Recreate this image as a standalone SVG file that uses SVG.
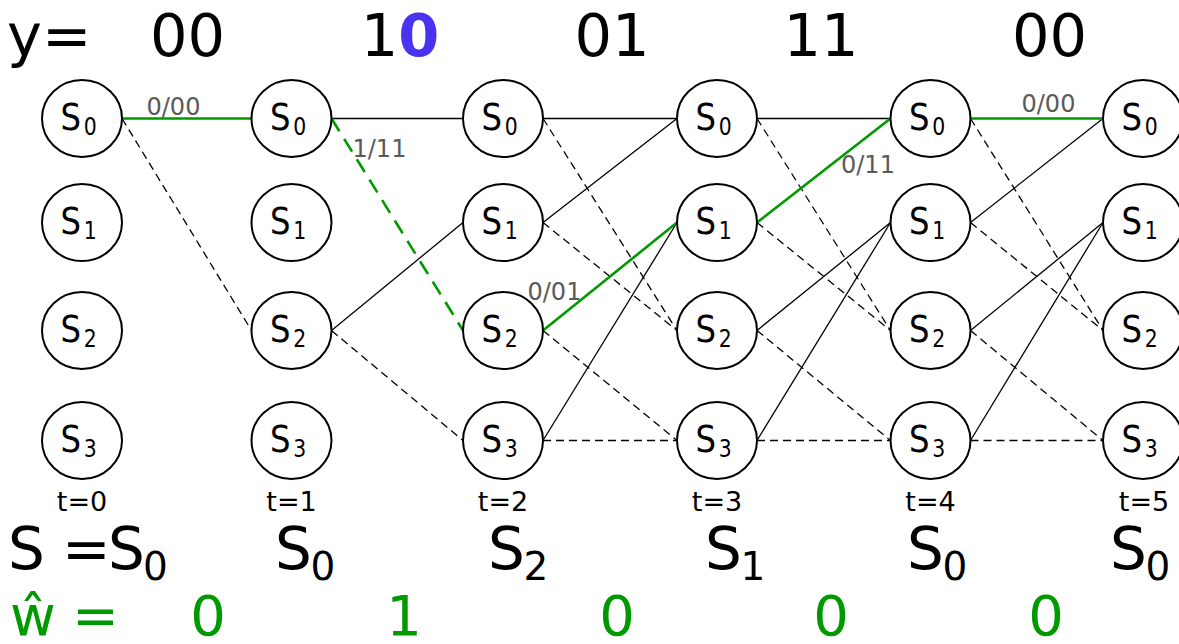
<svg xmlns="http://www.w3.org/2000/svg" width="1179" height="644" viewBox="0 0 1179 644">
<style>
text{font-family:"DejaVu Sans","Liberation Sans",sans-serif}
.s{stroke:#000;stroke-width:1.3;fill:none}
.d{stroke:#000;stroke-width:1.3;fill:none;stroke-dasharray:8,5}
.g{stroke:#009900;stroke-width:2.6;fill:none}
.gd{stroke:#009900;stroke-width:2.6;fill:none;stroke-dasharray:15,9}
.nd ellipse{fill:#fff;stroke:#000;stroke-width:2}
.nl{font-size:38px;fill:#000}
.sub{font-size:24px}
.lbl{font-size:24px;fill:#5a5a5a}
.tl{font-size:27px;fill:#000;text-anchor:middle}
.hd{font-size:59px;fill:#000}
.big{font-size:58px;fill:#000}
.bsub{font-size:39px}
.gr{font-size:56px;fill:#009900}
</style>
<g id="header">
<text class="hd" x="7" y="56">y=</text>
<text class="hd" x="187.5" y="56" text-anchor="middle">00</text>
<text class="hd" x="400" y="56" text-anchor="middle">1<tspan fill="#4b32f0" font-weight="bold">0</tspan></text>
<text class="hd" x="612" y="56" text-anchor="middle">01</text>
<text class="hd" x="821" y="56" text-anchor="middle">11</text>
<text class="hd" x="1049.5" y="56" text-anchor="middle">00</text>
</g>
<g id="connectors">
<line class="g" x1="122" y1="118.5" x2="251.5" y2="118.5"/>
<line class="d" x1="122" y1="118.5" x2="251.5" y2="330.5"/>
<line class="s" x1="331.5" y1="118.5" x2="463" y2="118.5"/>
<line class="gd" x1="331.5" y1="118.5" x2="463" y2="330.5"/>
<line class="s" x1="331.5" y1="330.5" x2="463" y2="222.5"/>
<line class="d" x1="331.5" y1="330.5" x2="463" y2="440.5"/>
<line class="s" x1="543" y1="118.5" x2="677" y2="118.5"/>
<line class="d" x1="543" y1="118.5" x2="677" y2="330.5"/>
<line class="s" x1="543" y1="222.5" x2="677" y2="118.5"/>
<line class="d" x1="543" y1="222.5" x2="677" y2="330.5"/>
<line class="d" x1="543" y1="330.5" x2="677" y2="440.5"/>
<line class="s" x1="543" y1="440.5" x2="677" y2="222.5"/>
<line class="d" x1="543" y1="440.5" x2="677" y2="440.5"/>
<line class="g" x1="543" y1="330.5" x2="677" y2="222.5"/>
<line class="s" x1="757" y1="118.5" x2="890.5" y2="118.5"/>
<line class="d" x1="757" y1="118.5" x2="890.5" y2="330.5"/>
<line class="d" x1="757" y1="222.5" x2="890.5" y2="330.5"/>
<line class="s" x1="757" y1="330.5" x2="890.5" y2="222.5"/>
<line class="d" x1="757" y1="330.5" x2="890.5" y2="440.5"/>
<line class="s" x1="757" y1="440.5" x2="890.5" y2="222.5"/>
<line class="d" x1="757" y1="440.5" x2="890.5" y2="440.5"/>
<line class="g" x1="757" y1="222.5" x2="890.5" y2="118.5"/>
<line class="d" x1="970.5" y1="118.5" x2="1103" y2="330.5"/>
<line class="s" x1="970.5" y1="222.5" x2="1103" y2="118.5"/>
<line class="d" x1="970.5" y1="222.5" x2="1103" y2="330.5"/>
<line class="s" x1="970.5" y1="330.5" x2="1103" y2="222.5"/>
<line class="d" x1="970.5" y1="330.5" x2="1103" y2="440.5"/>
<line class="s" x1="970.5" y1="440.5" x2="1103" y2="222.5"/>
<line class="d" x1="970.5" y1="440.5" x2="1103" y2="440.5"/>
<line class="g" x1="970.5" y1="118.5" x2="1103" y2="118.5"/>
<text class="lbl" x="146.5" y="114.5">0/00</text>
<text class="lbl" x="352.5" y="157">1/11</text>
<text class="lbl" x="527.5" y="300">0/01</text>
<text class="lbl" x="841" y="172.5">0/11</text>
<text class="lbl" x="1021.5" y="111.5">0/00</text>
</g>
<g id="n0_0" class="nd"><ellipse cx="82" cy="118.5" rx="40" ry="38.5"/><text class="nl" transform="translate(82,118.5) scale(0.85,1)"><tspan x="-25.2" y="11.5">S</tspan><tspan class="sub" dx="3" dy="5">0</tspan></text></g>
<g id="n0_1" class="nd"><ellipse cx="82" cy="222.5" rx="40" ry="38.5"/><text class="nl" transform="translate(82,222.5) scale(0.85,1)"><tspan x="-25.2" y="11.5">S</tspan><tspan class="sub" dx="3" dy="5">1</tspan></text></g>
<g id="n0_2" class="nd"><ellipse cx="82" cy="330.5" rx="40" ry="38.5"/><text class="nl" transform="translate(82,330.5) scale(0.85,1)"><tspan x="-25.2" y="11.5">S</tspan><tspan class="sub" dx="3" dy="5">2</tspan></text></g>
<g id="n0_3" class="nd"><ellipse cx="82" cy="440.5" rx="40" ry="38.5"/><text class="nl" transform="translate(82,440.5) scale(0.85,1)"><tspan x="-25.2" y="11.5">S</tspan><tspan class="sub" dx="3" dy="5">3</tspan></text></g>
<g id="n1_0" class="nd"><ellipse cx="291.5" cy="118.5" rx="40" ry="38.5"/><text class="nl" transform="translate(291.5,118.5) scale(0.85,1)"><tspan x="-25.2" y="11.5">S</tspan><tspan class="sub" dx="3" dy="5">0</tspan></text></g>
<g id="n1_1" class="nd"><ellipse cx="291.5" cy="222.5" rx="40" ry="38.5"/><text class="nl" transform="translate(291.5,222.5) scale(0.85,1)"><tspan x="-25.2" y="11.5">S</tspan><tspan class="sub" dx="3" dy="5">1</tspan></text></g>
<g id="n1_2" class="nd"><ellipse cx="291.5" cy="330.5" rx="40" ry="38.5"/><text class="nl" transform="translate(291.5,330.5) scale(0.85,1)"><tspan x="-25.2" y="11.5">S</tspan><tspan class="sub" dx="3" dy="5">2</tspan></text></g>
<g id="n1_3" class="nd"><ellipse cx="291.5" cy="440.5" rx="40" ry="38.5"/><text class="nl" transform="translate(291.5,440.5) scale(0.85,1)"><tspan x="-25.2" y="11.5">S</tspan><tspan class="sub" dx="3" dy="5">3</tspan></text></g>
<g id="n2_0" class="nd"><ellipse cx="503" cy="118.5" rx="40" ry="38.5"/><text class="nl" transform="translate(503,118.5) scale(0.85,1)"><tspan x="-25.2" y="11.5">S</tspan><tspan class="sub" dx="3" dy="5">0</tspan></text></g>
<g id="n2_1" class="nd"><ellipse cx="503" cy="222.5" rx="40" ry="38.5"/><text class="nl" transform="translate(503,222.5) scale(0.85,1)"><tspan x="-25.2" y="11.5">S</tspan><tspan class="sub" dx="3" dy="5">1</tspan></text></g>
<g id="n2_2" class="nd"><ellipse cx="503" cy="330.5" rx="40" ry="38.5"/><text class="nl" transform="translate(503,330.5) scale(0.85,1)"><tspan x="-25.2" y="11.5">S</tspan><tspan class="sub" dx="3" dy="5">2</tspan></text></g>
<g id="n2_3" class="nd"><ellipse cx="503" cy="440.5" rx="40" ry="38.5"/><text class="nl" transform="translate(503,440.5) scale(0.85,1)"><tspan x="-25.2" y="11.5">S</tspan><tspan class="sub" dx="3" dy="5">3</tspan></text></g>
<g id="n3_0" class="nd"><ellipse cx="717" cy="118.5" rx="40" ry="38.5"/><text class="nl" transform="translate(717,118.5) scale(0.85,1)"><tspan x="-25.2" y="11.5">S</tspan><tspan class="sub" dx="3" dy="5">0</tspan></text></g>
<g id="n3_1" class="nd"><ellipse cx="717" cy="222.5" rx="40" ry="38.5"/><text class="nl" transform="translate(717,222.5) scale(0.85,1)"><tspan x="-25.2" y="11.5">S</tspan><tspan class="sub" dx="3" dy="5">1</tspan></text></g>
<g id="n3_2" class="nd"><ellipse cx="717" cy="330.5" rx="40" ry="38.5"/><text class="nl" transform="translate(717,330.5) scale(0.85,1)"><tspan x="-25.2" y="11.5">S</tspan><tspan class="sub" dx="3" dy="5">2</tspan></text></g>
<g id="n3_3" class="nd"><ellipse cx="717" cy="440.5" rx="40" ry="38.5"/><text class="nl" transform="translate(717,440.5) scale(0.85,1)"><tspan x="-25.2" y="11.5">S</tspan><tspan class="sub" dx="3" dy="5">3</tspan></text></g>
<g id="n4_0" class="nd"><ellipse cx="930.5" cy="118.5" rx="40" ry="38.5"/><text class="nl" transform="translate(930.5,118.5) scale(0.85,1)"><tspan x="-25.2" y="11.5">S</tspan><tspan class="sub" dx="3" dy="5">0</tspan></text></g>
<g id="n4_1" class="nd"><ellipse cx="930.5" cy="222.5" rx="40" ry="38.5"/><text class="nl" transform="translate(930.5,222.5) scale(0.85,1)"><tspan x="-25.2" y="11.5">S</tspan><tspan class="sub" dx="3" dy="5">1</tspan></text></g>
<g id="n4_2" class="nd"><ellipse cx="930.5" cy="330.5" rx="40" ry="38.5"/><text class="nl" transform="translate(930.5,330.5) scale(0.85,1)"><tspan x="-25.2" y="11.5">S</tspan><tspan class="sub" dx="3" dy="5">2</tspan></text></g>
<g id="n4_3" class="nd"><ellipse cx="930.5" cy="440.5" rx="40" ry="38.5"/><text class="nl" transform="translate(930.5,440.5) scale(0.85,1)"><tspan x="-25.2" y="11.5">S</tspan><tspan class="sub" dx="3" dy="5">3</tspan></text></g>
<g id="n5_0" class="nd"><ellipse cx="1143" cy="118.5" rx="40" ry="38.5"/><text class="nl" transform="translate(1143,118.5) scale(0.85,1)"><tspan x="-25.2" y="11.5">S</tspan><tspan class="sub" dx="3" dy="5">0</tspan></text></g>
<g id="n5_1" class="nd"><ellipse cx="1143" cy="222.5" rx="40" ry="38.5"/><text class="nl" transform="translate(1143,222.5) scale(0.85,1)"><tspan x="-25.2" y="11.5">S</tspan><tspan class="sub" dx="3" dy="5">1</tspan></text></g>
<g id="n5_2" class="nd"><ellipse cx="1143" cy="330.5" rx="40" ry="38.5"/><text class="nl" transform="translate(1143,330.5) scale(0.85,1)"><tspan x="-25.2" y="11.5">S</tspan><tspan class="sub" dx="3" dy="5">2</tspan></text></g>
<g id="n5_3" class="nd"><ellipse cx="1143" cy="440.5" rx="40" ry="38.5"/><text class="nl" transform="translate(1143,440.5) scale(0.85,1)"><tspan x="-25.2" y="11.5">S</tspan><tspan class="sub" dx="3" dy="5">3</tspan></text></g>
<g id="time-labels">
<text class="tl" x="82" y="511">t=0</text>
<text class="tl" x="291.5" y="511">t=1</text>
<text class="tl" x="503" y="511">t=2</text>
<text class="tl" x="717" y="511">t=3</text>
<text class="tl" x="930.5" y="511">t=4</text>
<text class="tl" x="1144" y="511">t=5</text>
</g>
<g id="state-row">
<text class="big" y="569"><tspan x="8">S</tspan><tspan x="62">=</tspan><tspan x="108">S</tspan><tspan class="bsub" x="143" y="580">0</tspan></text>
<text class="big" y="569"><tspan x="275">S</tspan><tspan class="bsub" x="310.5" y="580">0</tspan></text>
<text class="big" y="569"><tspan x="488">S</tspan><tspan class="bsub" x="523.5" y="580">2</tspan></text>
<text class="big" y="569"><tspan x="705">S</tspan><tspan class="bsub" x="740.5" y="580">1</tspan></text>
<text class="big" y="569"><tspan x="907">S</tspan><tspan class="bsub" x="942.5" y="580">0</tspan></text>
<text class="big" y="569"><tspan x="1110">S</tspan><tspan class="bsub" x="1145.5" y="580">0</tspan></text>
</g>
<g id="w-row">
<text class="gr" x="10" y="635">ŵ</text>
<text class="gr" x="72" y="635">=</text>
<text class="gr" x="208" y="635" text-anchor="middle">0</text>
<text class="gr" x="404" y="635" text-anchor="middle">1</text>
<text class="gr" x="617" y="635" text-anchor="middle">0</text>
<text class="gr" x="831" y="635" text-anchor="middle">0</text>
<text class="gr" x="1046" y="635" text-anchor="middle">0</text>
</g>
</svg>
